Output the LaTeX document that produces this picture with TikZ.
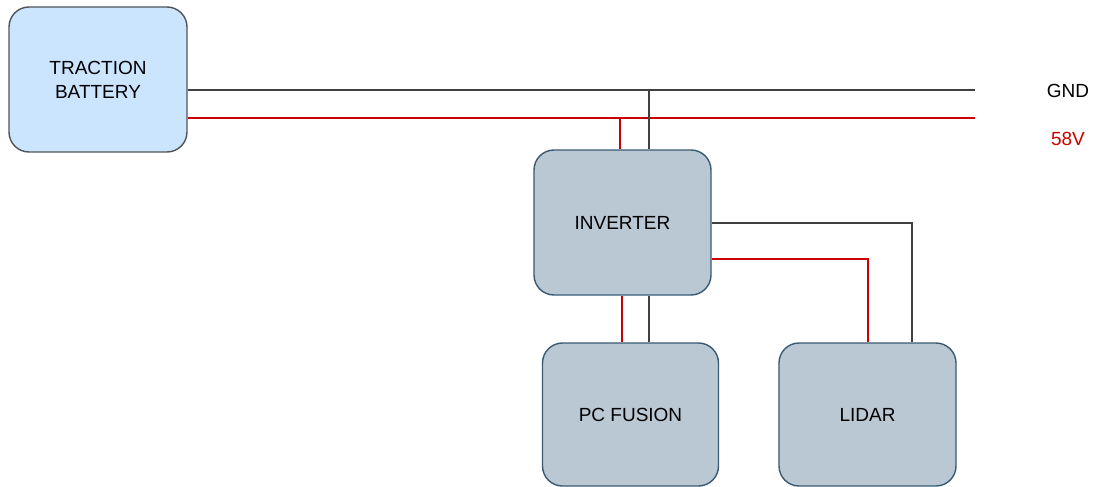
\documentclass[tikz,border=0pt]{standalone}
\usepackage{fontspec}
\setmainfont{Liberation Sans}
\begin{document}
\definecolor{battfill}{HTML}{CCE5FF}
\definecolor{battline}{HTML}{50545A}
\definecolor{unitfill}{HTML}{BAC8D3}
\definecolor{unitline}{HTML}{3A5A72}
\definecolor{plusred}{HTML}{CC0000}
\definecolor{gndgrey}{HTML}{404040}
\begin{tikzpicture}[x=1pt,y=-1pt,
  unit/.style={draw=unitline,fill=unitfill,line width=1.4pt,rounded corners=20pt,
    minimum width=177pt,minimum height=144pt,inner sep=0pt,font=\fontsize{19}{24}\selectfont,
    align=center,text=black},
  battbox/.style={unit,draw=battline,fill=battfill},
  gnd/.style={draw=gndgrey,line width=1.3pt},
  plus/.style={draw=plusred,line width=1.3pt},
  lbl/.style={font=\fontsize{19}{22}\selectfont,inner sep=0pt}]
\useasboundingbox (0,0) rectangle (1096,487);

% units
\node[battbox,minimum width=178pt,minimum height=145pt] (bat) at (98,79.5) {TRACTION\\BATTERY};
\node[unit,minimum height=145pt] (inv) at (622.5,222.5) {INVERTER};
\node[unit,minimum width=176pt,minimum height=143pt] (pc) at (630.5,414.5) {PC FUSION};
\node[unit,minimum height=143pt] (lidar) at (867.5,414.5) {LIDAR};

% bus ends and labels
\coordinate (gndend) at (975,90);
\coordinate (plusend) at (975,118);
\node[lbl] (gndlbl) at (1068,91) {GND};
\node[lbl,text=plusred] (pluslbl) at (1068,139) {58V};

% supply bus
\draw[gnd] (bat.east |- gndend) -- (gndend);
\draw[plus] (bat.east |- plusend) -- (plusend);

% battery bus to inverter
\draw[gnd] ([xshift=26.5pt]inv.north) -- ([xshift=26.5pt]inv.north |- gndend);
\draw[plus] ([xshift=-2.5pt]inv.north) -- ([xshift=-2.5pt]inv.north |- plusend);

% inverter to PC fusion
\draw[plus] ([xshift=-8.5pt]pc.north) -- ([xshift=-8.5pt]pc.north |- inv.south);
\draw[gnd] ([xshift=18.5pt]pc.north) -- ([xshift=18.5pt]pc.north |- inv.south);

% inverter to lidar
\draw[gnd] (inv.east |- 0,223) -| ([xshift=44.5pt]lidar.north);
\draw[plus] (inv.east |- 0,259) -| ([xshift=0.5pt]lidar.north);
\end{tikzpicture}
\end{document}
